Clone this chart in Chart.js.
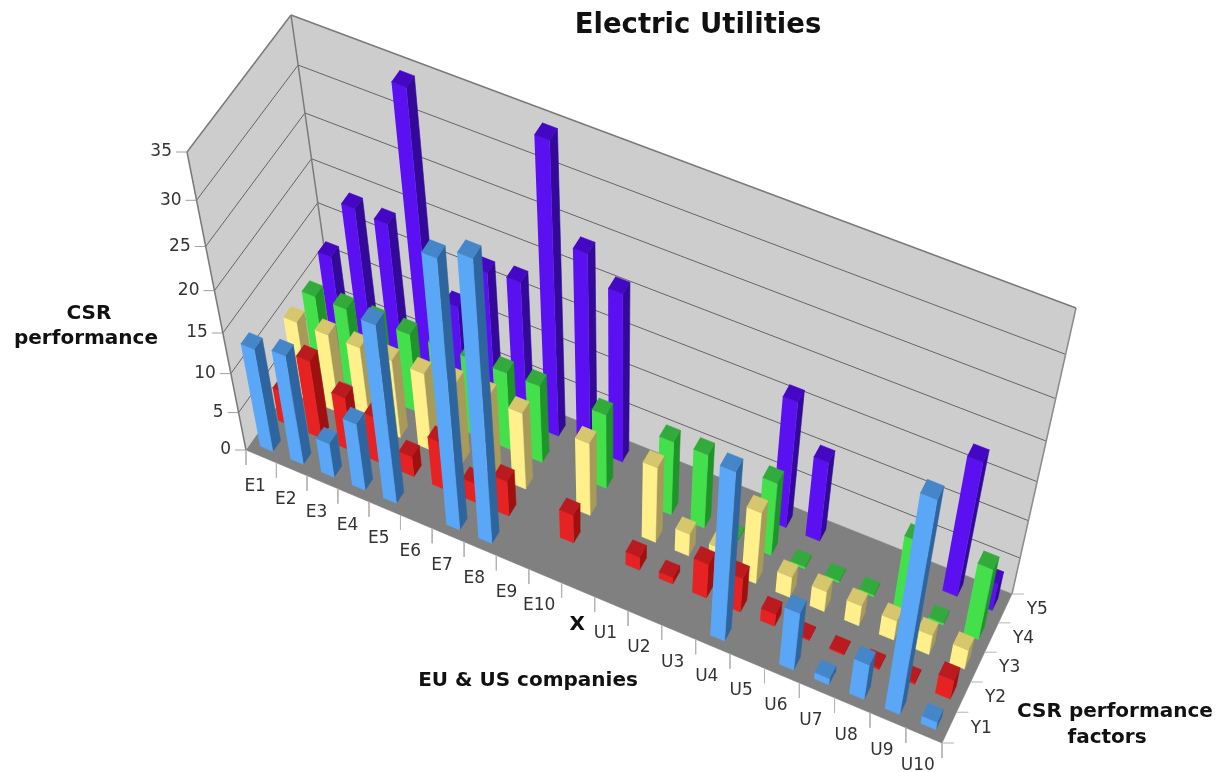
<!DOCTYPE html>
<html>
<head>
<meta charset="utf-8">
<title>Electric Utilities</title>
<script src="https://cdn.jsdelivr.net/npm/chart.js@4/dist/chart.umd.js"></script>
<style>
  body { margin: 0; background: #fff; }
</style>
</head>
<body>
<canvas id="myChart" width="1218" height="772"></canvas>
<script>
const categories = ['E1','E2','E3','E4','E5','E6','E7','E8','E9','E10','X','U1','U2','U3','U4','U5','U6','U7','U8','U9','U10'];
const factors = ['Y1','Y2','Y3','Y4','Y5'];
const valueTicks = [0,5,10,15,20,25,30,35];

const y1 = [13.2,14,4.5,8.8,22.5,0,33,34.5,0,0,0,0,0,0,22.3,0,8,0.9,5,28.3,1.1];
const y2 = [4.3,10,7,6,2.7,6.3,2.6,4.7,0,3.8,0,1.8,0.9,4.7,4.7,1.7,0.2,0.2,0.3,0.3,2.7];
const y3 = [10,10,10,10,10,10.5,10.5,10,0,9.6,0,10,3,2.8,9.6,2.8,2.8,2.8,2.7,2.7,2.7];
const y4 = [10,10,10,10,10,10,10,10,0,9.7,0,9.7,9.8,0.3,9.7,0.3,0.3,0.3,9.5,0.3,9.7];
const y5 = [11.7,18.8,18.5,34.5,11.7,17.3,17.7,34.6,24,21,0,0,0,0,16.3,10.5,0,0,0,17.7,3.7];
const series = [y1, y2, y3, y4, y5];

// front, side, top
const colors = [
	['#5aa6f7', '#2f659f', '#4486c8'],
	['#e62222', '#a01010', '#bb1a1f'],
	['#fff08c', '#a89a58', '#d6c66c'],
	['#44e04c', '#1f9428', '#33aa3c'],
	['#5a10f0', '#33099a', '#4408c4']
];

const nx = categories.length, ny = factors.length, zMax = 35;
const barLo = 0.29, barHi = 0.71;

// camera: where the corners of the box land on the page (front-left, front-right, back-right, back-left)
const floorQuad = [[246, 450], [942, 743], [1012, 594], [335, 324]];
const topQuad = [[187, 152], [997, 472], [1076, 308], [291, 15]];
const heightBend = 0.138;

// unit square -> quad
function quadMatrix(q) {
	const [p0, p1, p2, p3] = q;
	const dx1 = p1[0]-p2[0], dx2 = p3[0]-p2[0], sx = p0[0]-p1[0]+p2[0]-p3[0];
	const dy1 = p1[1]-p2[1], dy2 = p3[1]-p2[1], sy = p0[1]-p1[1]+p2[1]-p3[1];
	const den = dx1*dy2 - dx2*dy1;
	const g = (sx*dy2 - dx2*sy)/den, h = (dx1*sy - sx*dy1)/den;
	return {
		a: p1[0]-p0[0]+g*p1[0], b: p3[0]-p0[0]+h*p3[0], c: p0[0],
		d: p1[1]-p0[1]+g*p1[1], e: p3[1]-p0[1]+h*p3[1], f: p0[1],
		g: g, h: h
	};
}

function onQuad(m, s, t) {
	const w = m.g*s + m.h*t + 1;
	return [(m.a*s + m.b*t + m.c)/w, (m.d*s + m.e*t + m.f)/w];
}

const floorM = quadMatrix(floorQuad);
const topM = quadMatrix(topQuad);

function project(x, y, z) {
	const a = onQuad(floorM, x/nx, y/ny);
	const b = onQuad(topM, x/nx, y/ny);
	const w = z/zMax;
	const k = (1 - heightBend)*w/(1 - heightBend*w);
	return { x: a[0] + (b[0]-a[0])*k, y: a[1] + (b[1]-a[1])*k };
}

function poly(points, fillColor, edge) {
	return {
		data: points,
		showLine: true,
		fill: 'shape',
		backgroundColor: fillColor,
		borderColor: edge || fillColor,
		borderWidth: 0.6,
		pointRadius: 0,
		tension: 0
	};
}

function line(a, b, color, width) {
	return {
		data: [a, b],
		showLine: true,
		fill: false,
		borderColor: color,
		borderWidth: width,
		pointRadius: 0,
		tension: 0
	};
}

// paint order, back to front
const layers = [];

layers.push(poly([project(0,0,0), project(0,ny,0), project(0,ny,zMax), project(0,0,zMax)], '#cdcdcd'));
layers.push(poly([project(0,ny,0), project(nx,ny,0), project(nx,ny,zMax), project(0,ny,zMax)], '#cdcdcd'));
layers.push(poly([project(0,0,0), project(nx,0,0), project(nx,ny,0), project(0,ny,0)], '#808080'));

valueTicks.forEach(v => {
	if (v > 0 && v < zMax) {
		layers.push(line(project(0,0,v), project(0,ny,v), '#666666', 1));
		layers.push(line(project(0,ny,v), project(nx,ny,v), '#666666', 1));
	}
	const p = project(0,0,v);
	layers.push(line({x: p.x - 11, y: p.y}, p, '#a0a0a0', 1));
});
layers.push(line(project(0,0,0), project(0,0,zMax), '#7a7a7a', 1.5));
layers.push(line(project(0,ny,0), project(0,ny,zMax), '#7a7a7a', 1.5));
layers.push(line(project(nx,ny,0), project(nx,ny,zMax), '#8c8c8c', 1.5));
layers.push(line(project(0,0,zMax), project(0,ny,zMax), '#7a7a7a', 1.5));
layers.push(line(project(0,ny,zMax), project(nx,ny,zMax), '#7a7a7a', 1.5));

for (let i = 0; i <= nx; i++) {
	const p = project(i,0,0);
	layers.push(line(p, {x: p.x, y: p.y + 15}, '#b4b4b4', 1));
}
for (let j = 0; j <= ny; j++) {
	const p = project(nx,j,0);
	layers.push(line(p, {x: p.x + 12, y: p.y}, '#b4b4b4', 1));
}

for (let j = ny - 1; j >= 0; j--) {
	series[j].forEach((v, i) => {
		if (!v) return;
		const x0 = i + barLo, x1 = i + barHi, y0 = j + barLo, y1b = j + barHi;
		const [front, side, top] = colors[j];
		layers.push(poly([project(x1,y0,0), project(x1,y1b,0), project(x1,y1b,v), project(x1,y0,v)], side));
		layers.push(poly([project(x0,y0,0), project(x1,y0,0), project(x1,y0,v), project(x0,y0,v)], front));
		layers.push(poly([project(x0,y0,v), project(x1,y0,v), project(x1,y1b,v), project(x0,y1b,v)], top));
	});
}

const textFont = '"DejaVu Sans", Verdana, sans-serif';

const textPlugin = {
	id: 'boxText',
	afterDraw(chart) {
		const ctx = chart.ctx;
		const sx = chart.scales.x, sy = chart.scales.y;
		const put = (txt, x, y, font, align, color) => {
			ctx.font = font + ' ' + textFont;
			ctx.textAlign = align || 'center';
			ctx.textBaseline = 'middle';
			ctx.fillStyle = color || '#111';
			ctx.fillText(txt, sx.getPixelForValue(x), sy.getPixelForValue(y));
		};
		ctx.save();
		put('Electric Utilities', 698, 26, 'bold 27.5px');
		put('CSR', 89, 314, 'bold 20px');
		put('performance', 86, 339, 'bold 20px');
		put('EU & US companies', 528, 681, 'bold 20px');
		put('CSR performance', 1115, 712, 'bold 20px');
		put('factors', 1107, 738, 'bold 20px');
		categories.forEach((c, i) => {
			const p = project(i + 0.5, 0, 0);
			if (c === 'X') put(c, p.x - 1, p.y + 35, 'bold 20px');
			else put(c, p.x - 6, p.y + 30, '17px', 'center', '#333');
		});
		factors.forEach((c, j) => {
			const p = project(nx, j + 0.5, 0);
			put(c, p.x + 32, p.y + 1, '17px', 'center', '#333');
		});
		valueTicks.forEach(v => {
			const p = project(0, 0, v);
			put(String(v), p.x - 15, p.y, '17px', 'right', '#333');
		});
		ctx.restore();
	}
};

const ctx = document.getElementById('myChart').getContext('2d');
const chart = new Chart(ctx, {
	type: 'scatter',
	data: { datasets: layers.slice().reverse() },
	options: {
		responsive: false,
		animation: false,
		layout: { padding: 0 },
		plugins: { legend: { display: false }, tooltip: { enabled: false }, title: { display: false } },
		scales: {
			x: { type: 'linear', min: 0, max: 1218, display: false },
			y: { type: 'linear', min: 0, max: 772, reverse: true, display: false }
		}
	},
	plugins: [textPlugin]
});
</script>
</body>
</html>
